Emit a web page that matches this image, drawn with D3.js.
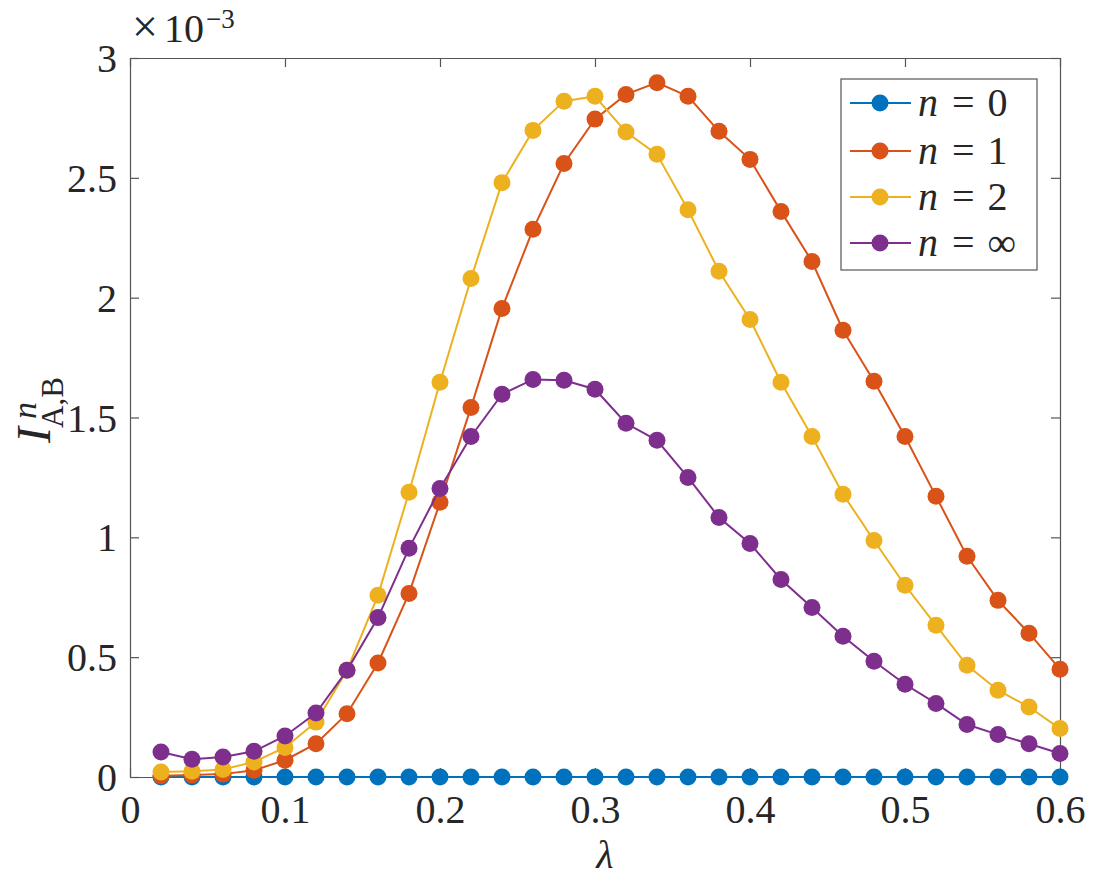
<!DOCTYPE html>
<html>
<head>
<meta charset="utf-8">
<script src="https://cdn.jsdelivr.net/npm/d3@7"></script>
<style>
  body { margin: 0; background: #fff; }
  svg { display: block; }
</style>
</head>
<body>
<script>
// lambda values, 0.02 .. 0.60
const lambdas = [0.02, 0.04, 0.06, 0.08, 0.10, 0.12, 0.14, 0.16, 0.18, 0.20,
                 0.22, 0.24, 0.26, 0.28, 0.30, 0.32, 0.34, 0.36, 0.38, 0.40,
                 0.42, 0.44, 0.46, 0.48, 0.50, 0.52, 0.54, 0.56, 0.58, 0.60];

// I^n_{A,B} in units of 1e-3
const n0 = [0, 0, 0, 0, 0, 0, 0, 0, 0, 0,
            0, 0, 0, 0, 0, 0, 0, 0, 0, 0,
            0, 0, 0, 0, 0, 0, 0, 0, 0, 0];
const n1 = [0.005, 0.008, 0.012, 0.028, 0.070, 0.139, 0.264, 0.476, 0.766, 1.146,
            1.542, 1.955, 2.285, 2.560, 2.745, 2.848, 2.897, 2.840, 2.694, 2.577,
            2.360, 2.151, 1.864, 1.651, 1.421, 1.171, 0.921, 0.737, 0.600, 0.450];
const n2 = [0.021, 0.024, 0.031, 0.063, 0.123, 0.229, 0.445, 0.758, 1.188, 1.647,
            2.080, 2.480, 2.698, 2.820, 2.840, 2.691, 2.598, 2.367, 2.110, 1.909,
            1.647, 1.421, 1.180, 0.987, 0.800, 0.633, 0.466, 0.362, 0.292, 0.202];
const nInf = [0.104, 0.074, 0.083, 0.107, 0.171, 0.267, 0.445, 0.665, 0.954, 1.204,
              1.421, 1.597, 1.659, 1.655, 1.618, 1.476, 1.405, 1.250, 1.083, 0.974,
              0.824, 0.707, 0.587, 0.483, 0.387, 0.307, 0.219, 0.177, 0.139, 0.098];

const seriesNames = ["0", "1", "2", "\u221E"];
const seriesValues = [n0, n1, n2, nInf];
const colors = ["#0072BD", "#D95319", "#EDB120", "#7E2F8E"];

const xTicks = [0, 0.1, 0.2, 0.3, 0.4, 0.5, 0.6];
const yTicks = [0, 0.5, 1, 1.5, 2, 2.5, 3];

const W = 1111, H = 886;
const margin = {top: 58, right: 51, bottom: 109, left: 130};
const width = W - margin.left - margin.right,
      height = H - margin.top - margin.bottom;

const serif = '"Liberation Serif"';
const ink = "#262626";
const fs = 40;

const svg = d3.select("body").append("svg")
  .attr("width", W).attr("height", H);

const g = svg.append("g")
  .attr("transform", `translate(${margin.left},${margin.top})`);

const x = d3.scaleLinear().domain([0, 0.6]).range([0, width]);
const y = d3.scaleLinear().domain([0, 3]).range([height, 0]);

// axes, ticks pointing inward (MATLAB style box)
const fmt = d => d === 0 ? "0" : String(d);
const xAxis = g.append("g").attr("transform", `translate(0,${height})`)
  .call(d3.axisBottom(x).tickValues(xTicks).tickFormat(fmt).tickSizeInner(-9).tickSizeOuter(0).tickPadding(18));
const xTop = g.append("g")
  .call(d3.axisTop(x).tickValues(xTicks).tickFormat("").tickSizeInner(-9).tickSizeOuter(0));
const yAxis = g.append("g")
  .call(d3.axisLeft(y).tickValues(yTicks).tickFormat(fmt).tickSizeInner(-9).tickSizeOuter(0).tickPadding(13));
const yRight = g.append("g").attr("transform", `translate(${width},0)`)
  .call(d3.axisRight(y).tickValues(yTicks).tickFormat("").tickSizeInner(-9).tickSizeOuter(0));

[xAxis, xTop, yAxis, yRight].forEach(a => {
  a.attr("font-family", null);
  a.selectAll("path.domain").attr("stroke", "#555").attr("stroke-width", 1.2);
  a.selectAll(".tick line").attr("stroke", "#555").attr("stroke-width", 1.2);
  a.selectAll(".tick text").style("font-family", serif).attr("font-size", fs).attr("fill", ink);
});
xAxis.selectAll(".tick text").attr("dy", "0.71em");
yAxis.selectAll(".tick text").attr("dy", "0.34em");

// series: lines and markers, drawn in order so n=inf sits on top
const line = d3.line().x((d, i) => x(lambdas[i])).y(d => y(d));
seriesValues.forEach((vals, k) => {
  const s = g.append("g");
  s.append("path").datum(vals)
    .attr("d", line)
    .attr("fill", "none")
    .attr("stroke", colors[k])
    .attr("stroke-width", 2);
  s.selectAll("circle").data(vals).join("circle")
    .attr("cx", (d, i) => x(lambdas[i]))
    .attr("cy", d => y(d))
    .attr("r", 8.5)
    .attr("fill", colors[k]);
});

// exponent label above the axis
const expo = svg.append("text")
  .attr("x", 132).attr("y", 42)
  .style("font-family", serif)
  .attr("font-size", fs).attr("fill", ink);
expo.append("tspan").attr("font-size", 46).text("\u00D7");
expo.append("tspan").attr("dx", 6).text("10");
expo.append("tspan").attr("dx", 2).attr("dy", -14).attr("font-size", 27).text("\u22123");

// x label
svg.append("text")
  .attr("x", 605).attr("y", 868)
  .attr("text-anchor", "middle")
  .style("font-family", serif).style("font-style", "italic")
  .attr("font-size", 40).attr("fill", ink)
  .text("\u03BB");

// y label  I^n_{A,B}
const yl = svg.append("g").attr("transform", "translate(50,443) rotate(-90)");
yl.append("text").attr("x", 0).attr("y", 0)
  .style("font-family", serif).style("font-style", "italic")
  .attr("font-size", 48).attr("fill", ink).text("I");
yl.append("text").attr("x", 24).attr("y", -14)
  .style("font-family", serif).style("font-style", "italic")
  .attr("font-size", 34).attr("fill", ink).text("n");
yl.append("text").attr("x", 15).attr("y", 13)
  .style("font-family", serif)
  .attr("font-size", 31).attr("fill", ink).text("A,B");

// legend
const leg = svg.append("g").attr("transform", "translate(841,79)");
leg.append("rect")
  .attr("width", 196).attr("height", 191)
  .attr("fill", "#fff").attr("stroke", "#555").attr("stroke-width", 1.2);
const rowY = [24, 72, 118, 164];
seriesNames.forEach((name, k) => {
  const r = leg.append("g").attr("transform", `translate(0,${rowY[k]})`);
  r.append("line").attr("x1", 9).attr("x2", 70)
    .attr("stroke", colors[k]).attr("stroke-width", 2);
  r.append("circle").attr("cx", 39).attr("r", 8.5).attr("fill", colors[k]);
  const t = r.append("text").attr("x", 77).attr("y", 13)
    .style("font-family", serif)
    .attr("font-size", fs).attr("fill", ink);
  t.append("tspan").style("font-style", "italic").text("n");
  t.append("tspan").attr("dx", 14).text("=");
  t.append("tspan").attr("dx", 13).text(name);
});
</script>
</body>
</html>
